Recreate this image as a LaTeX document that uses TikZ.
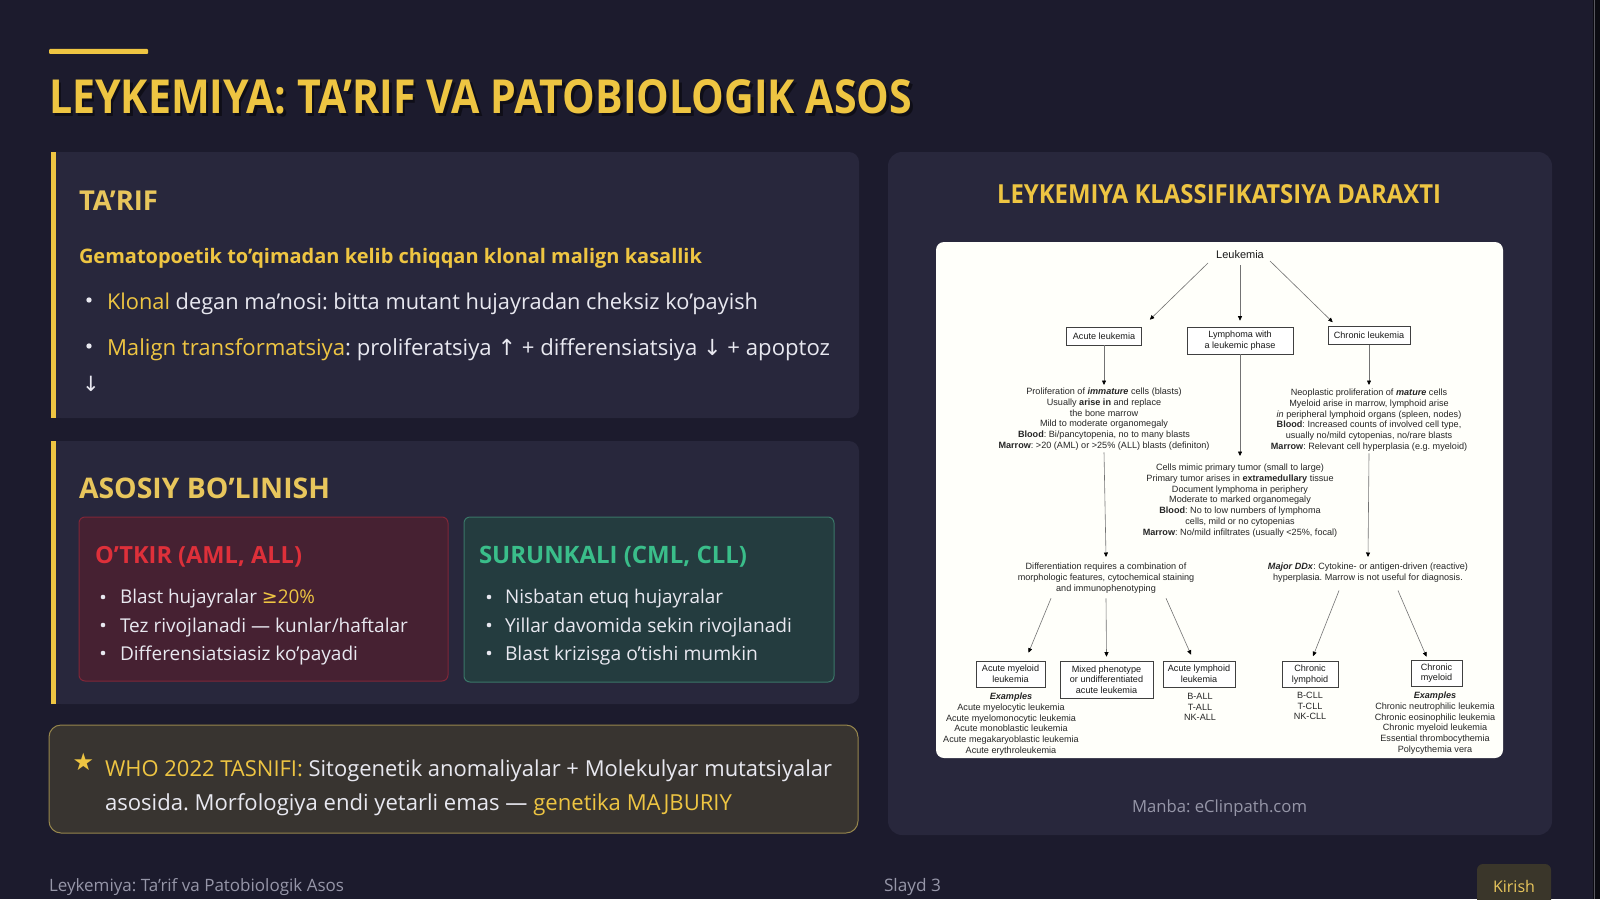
\documentclass[tikz,border=0pt]{standalone}
\usepackage{fontspec}
\usepackage{graphicx}
\setmainfont{Open Sans}
\newfontfamily\treefont{Liberation Sans}
\newfontfamily\symfont{DejaVu Sans}
\usetikzlibrary{arrows.meta}
\frenchspacing
\definecolor{bgc}{RGB}{28,27,45}
\definecolor{cardc}{RGB}{40,39,60}
\definecolor{goldc}{RGB}{238,197,66}
\definecolor{headc}{RGB}{232,198,92}
\definecolor{bodyc}{RGB}{232,232,240}
\definecolor{grayc}{RGB}{150,150,168}
\definecolor{redfill}{RGB}{70,33,50}
\definecolor{redline}{RGB}{128,38,56}
\definecolor{redtxt}{RGB}{222,48,58}
\definecolor{grnfill}{RGB}{36,60,63}
\definecolor{grnline}{RGB}{58,118,104}
\definecolor{grntxt}{RGB}{58,190,138}
\definecolor{whofill}{RGB}{56,52,48}
\definecolor{wholine}{RGB}{150,134,76}
\definecolor{btnfill}{RGB}{58,54,42}
\newcommand{\fitw}[2]{\resizebox{#1pt}{!}{#2}}
\newcommand{\fitwh}[3]{\resizebox{#1pt}{#2pt}{#3}}
\newcommand{\slidebody}{\fontsize{20}{24}\selectfont}
\newcommand{\slidehead}{\fontsize{30}{36}\selectfont\bfseries}
\tikzset{
  txt/.style={inner sep=0pt, outer sep=0pt, anchor=base west, text=bodyc},
  tbox/.style={draw=black!75, line width=0.6pt, fill=white, align=center, inner xsep=3pt, inner ysep=3pt, font=\treefont\fontsize{9.1}{10.7}\selectfont, text=black!90},
  ttxt/.style={align=center, inner sep=0pt, anchor=north, font=\treefont\fontsize{9.1}{10.7}\selectfont, text=black!85},
  tarr/.style={draw=black!55, line width=0.6pt, -{Triangle[length=4.5pt,width=4pt,color=black]}},
  bdot/.style={fill=bodyc, draw=none},
}
\begin{document}
\begin{tikzpicture}[x=1pt,y=-1pt]
\useasboundingbox (0,0) rectangle (1600,899);
\fill[bgc] (0,0) rectangle (1600,899);
\fill[black!60!bgc] (1593,0) rectangle (1600,899);
\draw[gray!60!bgc, line width=1.2pt] (1594.5,0) -- (1594.5,899);

% top accent and title
\fill[goldc, rounded corners=1pt] (49,49) rectangle (148,54);
\node[txt, text=black, opacity=0.45] at (51.5,116) {\fitwh{863}{34}{\bfseries LEYKEMIYA: TA'RIF VA PATOBIOLOGIK ASOS}};
\node[txt, text=goldc] (title) at (49,113.5) {\fitwh{863}{34}{\bfseries LEYKEMIYA: TA'RIF VA PATOBIOLOGIK ASOS}};

% card 1
\fill[cardc, rounded corners=10pt] (51,152) rectangle (859,418);
\fill[cardc] (51,152) rectangle (70,418);
\fill[goldc] (51,152) rectangle (55.5,418);
\node[txt, text=headc] (h1) at (79,210) {\fitw{79}{\slidehead TA'RIF}};
\node[txt, text=goldc] (sub1) at (79,263) {\fitw{623}{\slidebody\bfseries Gematopoetik to'qimadan kelib chiqqan klonal malign kasallik}};
\fill[bdot] (89,300) circle (2.7);
\node[txt] (b1) at (107,309) {\fitw{651}{\slidebody{\color{goldc}Klonal} degan ma'nosi: bitta mutant hujayradan cheksiz ko'payish}};
\fill[bdot] (89,346) circle (2.7);
\node[txt] (b2) at (107,355) {\fitw{723}{\slidebody{\color{goldc}Malign transformatsiya}: proliferatsiya {\symfont ↑} + differensiatsiya {\symfont ↓} + apoptoz}};
\node[txt] (b2b) at (82,391) {\symfont\fontsize{21}{24}\selectfont ↓};

% card 2
\fill[cardc, rounded corners=10pt] (51,441) rectangle (859,704);
\fill[cardc] (51,441) rectangle (70,704);
\fill[goldc] (51,441) rectangle (55.5,704);
\node[txt, text=headc] (h2) at (79,498) {\fitw{251}{\slidehead ASOSIY BO'LINISH}};

\draw[redline, fill=redfill, line width=1pt, rounded corners=6pt] (79,517) rectangle (448,681);
\node[txt, text=redtxt] (rt) at (95,563) {\fitw{207}{\slidehead O'TKIR (AML, ALL)}};
\fill[bdot] (103,597) circle (2.3);
\fill[bdot] (103,625) circle (2.3);
\fill[bdot] (103,653) circle (2.3);
\node[txt] (r1) at (120,603) {\fitw{195}{\slidebody Blast hujayralar {\color{goldc}{\symfont ≥}20\%}}};
\node[txt] (r2) at (120,632) {\fitw{288}{\slidebody Tez rivojlanadi — kunlar/haftalar}};
\node[txt] (r3) at (120,660) {\fitw{238}{\slidebody Differensiatsiasiz ko'payadi}};

\draw[grnline, fill=grnfill, line width=1pt, rounded corners=6pt] (464,517) rectangle (834,682);
\node[txt, text=grntxt] (gt) at (479,563) {\fitw{268}{\slidehead SURUNKALI (CML, CLL)}};
\fill[bdot] (489,597) circle (2.3);
\fill[bdot] (489,625) circle (2.3);
\fill[bdot] (489,653) circle (2.3);
\node[txt] (g1) at (505,603) {\fitw{218}{\slidebody Nisbatan etuq hujayralar}};
\node[txt] (g2) at (505,632) {\fitw{287}{\slidebody Yillar davomida sekin rivojlanadi}};
\node[txt] (g3) at (505,660) {\fitw{253}{\slidebody Blast krizisga o'tishi mumkin}};

% WHO box
\draw[wholine, fill=whofill, line width=1pt, rounded corners=12pt] (49,725) rectangle (858,833);
\node[inner sep=0pt, text=goldc] (star) at (83.5,762) {\symfont\fontsize{24}{24}\selectfont ★};
\node[txt] (w1) at (105,776) {\fitw{727}{\slidebody{\color{goldc}WHO 2022 TASNIFI:} Sitogenetik anomaliyalar + Molekulyar mutatsiyalar}};
\node[txt] (w2) at (105,810) {\fitw{627}{\slidebody asosida. Morfologiya endi yetarli emas — {\color{goldc}genetika MAJBURIY}}};

% footer
\node[txt, text=grayc] (f1) at (49,891) {\fitw{295}{\slidebody Leykemiya: Ta'rif va Patobiologik Asos}};
\node[txt, text=grayc] (f2) at (884,891) {\fitw{57}{\slidebody Slayd 3}};
\begin{scope}
\clip (0,0) rectangle (1600,899);
\fill[btnfill, rounded corners=6pt] (1477,864) rectangle (1551,912);
\end{scope}
\node[txt, text=headc] (kir) at (1493,892) {\fitw{42}{\slidebody Kirish}};

% right card
\fill[cardc, rounded corners=14pt] (888,152) rectangle (1552,835);
\node[inner sep=0pt, anchor=base, text=goldc] (rtitle) at (1219,203) {\fitwh{444}{19}{\slidehead LEYKEMIYA KLASSIFIKATSIYA DARAXTI}};
\fill[white!98!yellow, rounded corners=8pt] (936,242) rectangle (1503,758);
\node[txt, text=grayc] (src) at (1132,812) {\fitw{175}{\slidebody Manba: eClinpath.com}};

% tree
\node[inner sep=0pt, font=\treefont\fontsize{11}{13}\selectfont, text=black!90] (leuk) at (1240,255) {Leukemia};
\node[tbox, minimum width=75pt, minimum height=18pt] (acute) at (1104,336) {Acute leukemia};
\node[tbox, minimum width=106pt, minimum height=27pt] (lymph) at (1240,340.5) {Lymphoma with\\a leukemic phase};
\node[tbox, minimum width=82pt, minimum height=18pt] (chron) at (1369,335.5) {Chronic leukemia};

\node[ttxt] (acutetxt) at (1104,388) {Proliferation of \textbf{\textit{immature}} cells (blasts)\\Usually \textbf{arise in} and replace\\the bone marrow\\Mild to moderate organomegaly\\\textbf{Blood}: Bi/pancytopenia, no to many blasts\\\textbf{Marrow}: >20 (AML) or >25\% (ALL) blasts (definiton)};
\node[ttxt] (lymphtxt) at (1240,464) {Cells mimic primary tumor (small to large)\\Primary tumor arises in \textbf{extramedullary} tissue\\Document lymphoma in periphery\\Moderate to marked organomegaly\\\textbf{Blood}: No to low numbers of lymphoma\\cells, mild or no cytopenias\\\textbf{Marrow}: No/mild infiltrates (usually <25\%, focal)};
\node[ttxt] (chrontxt) at (1369,389) {Neoplastic proliferation of \textbf{\textit{mature}} cells\\Myeloid arise in marrow, lymphoid arise\\\textit{in} peripheral lymphoid organs (spleen, nodes)\\\textbf{Blood}: Increased counts of involved cell type,\\usually no/mild cytopenias, no/rare blasts\\\textbf{Marrow}: Relevant cell hyperplasia (e.g. myeloid)};
\node[ttxt] (difftxt) at (1106,563) {Differentiation requires a combination of\\morphologic features, cytochemical staining\\and immunophenotyping};
\node[ttxt] (ddxtxt) at (1368,563) {\textbf{\textit{Major DDx}}: Cytokine- or antigen-driven (reactive)\\hyperplasia. Marrow is not useful for diagnosis.};

\node[tbox, minimum width=69pt, minimum height=26pt] (aml) at (1010.5,674) {Acute myeloid\\leukemia};
\node[tbox, minimum width=93pt, minimum height=37pt] (mixed) at (1106.5,679.5) {Mixed phenotype\\or undifferentiated\\acute leukemia};
\node[tbox, minimum width=72pt, minimum height=26pt] (alll) at (1199,674) {Acute lymphoid\\leukemia};
\node[tbox, minimum width=56pt, minimum height=26pt] (cl) at (1310,674.5) {Chronic\\lymphoid};
\node[tbox, minimum width=51pt, minimum height=26pt] (cm) at (1436.5,673) {Chronic\\myeloid};

\node[ttxt] (amlex) at (1011,693) {\textbf{\textit{Examples}}\\Acute myelocytic leukemia\\Acute myelomonocytic leukemia\\Acute monoblastic leukemia\\Acute megakaryoblastic leukemia\\Acute erythroleukemia};
\node[ttxt] (allex) at (1200,693) {B-ALL\\T-ALL\\NK-ALL};
\node[ttxt] (clex) at (1310,692) {B-CLL\\T-CLL\\NK-CLL};
\node[ttxt] (cmex) at (1435,692) {\textbf{\textit{Examples}}\\Chronic neutrophilic leukemia\\Chronic eosinophilic leukemia\\Chronic myeloid leukemia\\Essential thrombocythemia\\Polycythemia vera};

\draw[tarr] ([xshift=-32pt,yshift=-8pt]leuk.center) -- ([xshift=8pt,yshift=7pt]acute.north east);
\draw[tarr] ([yshift=-10pt]leuk.center) -- ([yshift=6pt]lymph.north);
\draw[tarr] ([xshift=30pt,yshift=-6pt]leuk.center) -- ([xshift=5pt,yshift=4pt]chron.north west);
\draw[tarr] (acute.south) -- ([yshift=3pt]acutetxt.north);
\draw[tarr] (lymph.south) -- ([yshift=8pt]lymphtxt.north);
\draw[tarr] (chron.south) -- ([yshift=4pt]chrontxt.north);
\draw[tarr] ([yshift=-2pt]acutetxt.south) -- ([yshift=6pt]difftxt.north);
\draw[tarr] ([yshift=-2pt]chrontxt.south) -- ([yshift=6pt]ddxtxt.north);
\draw[tarr] ([xshift=-55pt,yshift=-5pt]difftxt.south) -- ([xshift=18pt,yshift=8pt]aml.north);
\draw[tarr] ([yshift=-5pt]difftxt.south) -- ([yshift=4pt]mixed.north);
\draw[tarr] ([xshift=60pt,yshift=-5pt]difftxt.south) -- ([xshift=-8pt,yshift=6pt]alll.north);
\draw[tarr] ([xshift=-29pt,yshift=-8pt]ddxtxt.south) -- ([xshift=3pt,yshift=5pt]cl.north);
\draw[tarr] ([xshift=30pt,yshift=-8pt]ddxtxt.south) -- ([xshift=-10pt,yshift=3pt]cm.north);
\end{tikzpicture}
\end{document}
